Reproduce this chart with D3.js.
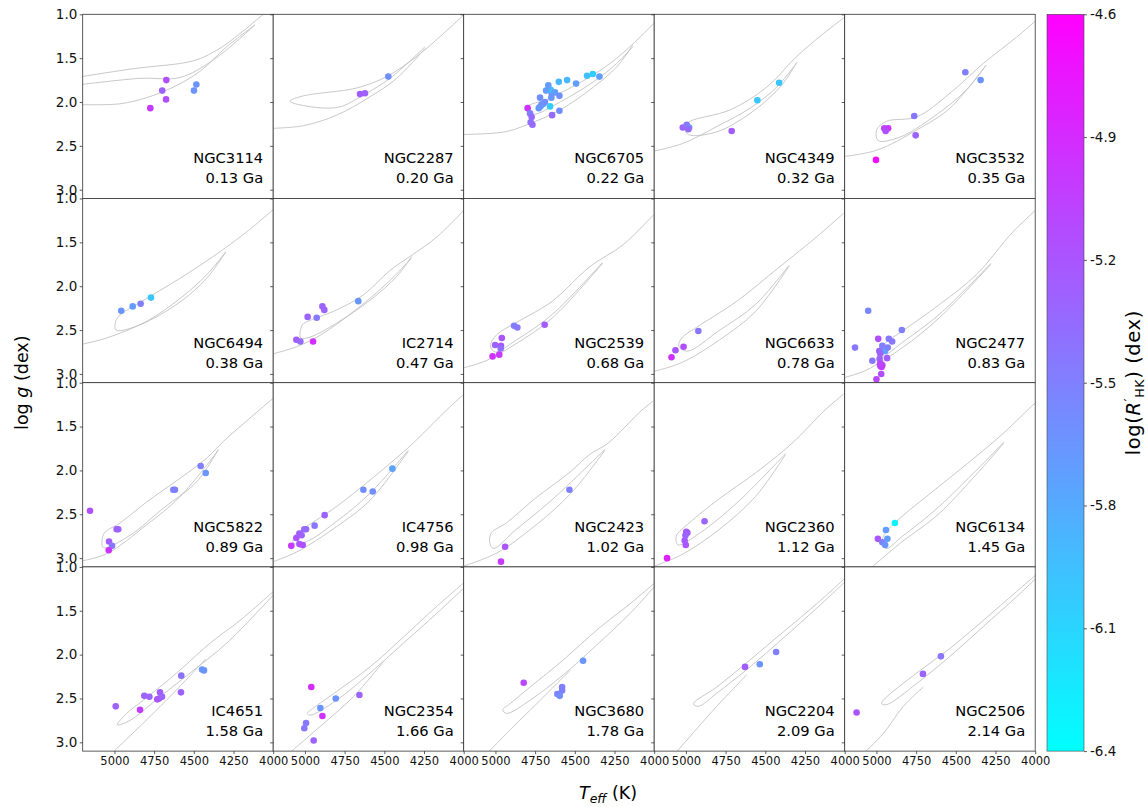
<!DOCTYPE html>
<html>
<head>
<meta charset="utf-8">
<script src="https://cdn.jsdelivr.net/npm/d3@7"></script>
<style>
  body { margin: 0; background: #fff; }
  svg { display: block; font-family: "DejaVu Sans", sans-serif; }
</style>
</head>
<body>
<svg id="chart" width="1148" height="807"></svg>
<script>
// ---- cluster names and ages (Ga), row-major order of the 4x5 grid ----
const clusterNames = ["NGC3114", "NGC2287", "NGC6705", "NGC4349", "NGC3532",
                      "NGC6494", "IC2714", "NGC2539", "NGC6633", "NGC2477",
                      "NGC5822", "IC4756", "NGC2423", "NGC2360", "NGC6134",
                      "IC4651", "NGC2354", "NGC3680", "NGC2204", "NGC2506"];
const clusterAges = ["0.13", "0.20", "0.22", "0.32", "0.35",
                     "0.38", "0.47", "0.68", "0.78", "0.83",
                     "0.89", "0.98", "1.02", "1.12", "1.45",
                     "1.58", "1.66", "1.78", "2.09", "2.14"];

// ---- giant stars: effective temperature (K) per cluster ----
const starTeff = [
  [4673, 4699, 4675, 4774, 4484, 4499],
  [4475, 4653, 4622],
  [4797, 4782, 4772, 4778, 4767, 4727, 4717, 4709, 4698, 4688, 4719, 4656, 4643, 4597, 4648, 4646, 4652, 4681, 4667, 4625, 4597, 4601, 4549, 4492, 4423, 4387, 4345],
  [5020, 4995, 4980, 4985, 4712, 4550, 4413],
  [5003, 4951, 4926, 4942, 4762, 4753, 4440, 4344],
  [4957, 4885, 4835, 4770],
  [4664, 4890, 4878, 4983, 4926, 5054, 5029, 4949],
  [4883, 4862, 4690, 4960, 5002, 4965, 4967, 5018, 4976],
  [4922, 5015, 5066, 5091],
  [5052, 5135, 4840, 4989, 4922, 4901, 4959, 4945, 4929, 4975, 5026, 4980, 4933, 4975, 4975, 4963, 4970, 5000, 4982, 4963, 4968, 4978],
  [5154, 4986, 4976, 5034, 5015, 5036, 4629, 4619, 4457, 4425],
  [4449, 4632, 4573, 4876, 4939, 5004, 4993, 5035, 5021, 5054, 5035, 5014, 5086],
  [4534, 4939, 4965],
  [4883, 4998, 4991, 5003, 5008, 5001, 5119],
  [4884, 4940, 4931, 4991, 4963, 4945],
  [4992, 4839, 4812, 4780, 4713, 4730, 4719, 4700, 4579, 4581, 4448, 4436],
  [4960, 4657, 4806, 4903, 4890, 4993, 5004, 4945],
  [4822, 4448, 4580, 4580, 4610, 4595],
  [4628, 4535, 4432],
  [5125, 4707, 4594]
];

// ---- giant stars: surface gravity log g (dex) per cluster ----
const starLogg = [
  [1.75, 1.87, 1.97, 2.07, 1.80, 1.87],
  [1.71, 1.91, 1.90],
  [2.07, 2.13, 2.17, 2.23, 2.26, 2.07, 2.05, 2.03, 2.02, 2.00, 1.95, 2.05, 2.15, 2.10, 1.95, 1.90, 1.86, 1.87, 1.81, 1.89, 1.93, 1.77, 1.75, 1.79, 1.70, 1.68, 1.71],
  [2.29, 2.26, 2.29, 2.31, 2.33, 1.98, 1.78],
  [2.66, 2.30, 2.30, 2.33, 2.16, 2.38, 1.66, 1.75],
  [2.28, 2.23, 2.20, 2.13],
  [2.17, 2.23, 2.27, 2.35, 2.36, 2.61, 2.63, 2.63],
  [2.45, 2.47, 2.44, 2.59, 2.67, 2.68, 2.71, 2.80, 2.78],
  [2.51, 2.69, 2.73, 2.81],
  [2.28, 2.70, 2.50, 2.60, 2.60, 2.63, 2.70, 2.74, 2.70, 2.77, 2.85, 2.83, 2.82, 2.88, 2.91, 2.90, 3.00, 3.06, 2.74, 2.68, 2.92, 2.89],
  [2.46, 2.67, 2.67, 2.81, 2.86, 2.91, 2.22, 2.22, 1.95, 2.03],
  [1.98, 2.22, 2.24, 2.51, 2.63, 2.67, 2.67, 2.72, 2.74, 2.77, 2.84, 2.85, 2.86],
  [2.22, 2.87, 3.04],
  [2.58, 2.70, 2.71, 2.74, 2.80, 2.85, 3.00],
  [2.60, 2.68, 2.78, 2.78, 2.82, 2.85],
  [2.59, 2.63, 2.47, 2.48, 2.43, 2.51, 2.50, 2.48, 2.24, 2.43, 2.17, 2.18],
  [2.37, 2.46, 2.50, 2.61, 2.70, 2.78, 2.84, 2.98],
  [2.32, 2.07, 2.37, 2.41, 2.45, 2.47],
  [2.14, 2.11, 1.97],
  [2.66, 2.22, 2.02]
];

// ---- giant stars: chromospheric activity log(R'HK) (dex) per cluster ----
const starRhk = [
  [-5.15, -5.3, -5.15, -5.0, -5.65, -5.65],
  [-5.6, -5.25, -5.3],
  [-4.95, -5.5, -5.35, -5.4, -5.35, -5.65, -5.7, -5.65, -5.65, -5.6, -5.6, -6.05, -5.35, -5.6, -5.65, -5.65, -5.95, -5.7, -5.7, -5.7, -5.6, -5.9, -5.9, -5.7, -5.95, -6.05, -5.7],
  [-5.3, -5.45, -5.6, -5.35, -5.25, -6.0, -6.0],
  [-4.7, -5.1, -5.0, -5.15, -5.45, -5.3, -5.5, -5.65],
  [-5.65, -5.7, -5.5, -6.0],
  [-5.65, -5.3, -5.3, -5.3, -5.45, -5.25, -5.35, -4.9],
  [-5.5, -5.45, -5.25, -5.2, -5.3, -5.2, -5.4, -4.95, -5.0],
  [-5.45, -5.15, -5.2, -4.95],
  [-5.55, -5.45, -5.5, -5.15, -5.45, -5.45, -5.65, -5.75, -5.5, -5.3, -5.45, -5.3, -5.25, -5.2, -5.05, -5.1, -5.15, -5.1, -5.3, -5.5, -5.0, -5.1],
  [-5.15, -5.25, -5.3, -5.25, -5.45, -4.95, -5.5, -5.5, -5.5, -5.65],
  [-5.75, -5.6, -5.6, -5.3, -5.45, -5.35, -5.35, -5.25, -5.3, -5.2, -5.2, -5.15, -5.0],
  [-5.5, -5.2, -5.0],
  [-5.3, -5.25, -5.25, -5.3, -5.25, -5.2, -4.85],
  [-6.3, -5.7, -5.7, -5.2, -5.5, -5.65],
  [-5.3, -5.0, -5.3, -5.3, -5.25, -5.2, -5.2, -5.3, -5.4, -5.3, -5.65, -5.65],
  [-4.9, -5.3, -5.65, -5.65, -4.95, -5.45, -5.45, -5.3],
  [-5.1, -5.65, -5.5, -5.5, -5.5, -5.6],
  [-5.25, -5.65, -5.5],
  [-5.2, -5.3, -5.45]
];

// ---- isochrone tracks [Teff, log g] per cluster ----
const isochrones = [
  [ [[5206,1.71],[4881,1.62],[4503,1.53],[4356,1.41],[4209,1.22],[4062,1.0],[4000,0.92]],
    [[5206,1.80],[4839,1.73],[4587,1.72],[4377,1.52],[4115,1.12]],
    [[5206,2.03],[4965,2.02],[4797,1.95],[4629,1.83],[4461,1.65],[4293,1.37],[4115,1.12]] ],
  [ [[3990,0.99],[4128,1.22],[4296,1.48],[4485,1.71],[4674,1.84],[5010,1.93],[5094,1.99],[5010,2.04],[4790,2.06],[4632,1.92],[4464,1.73],[4244,1.37]],
    [[5200,2.30],[5010,2.27],[4800,2.15],[4590,1.94],[4422,1.73],[4244,1.39]] ],
  [ [[5200,2.37],[4940,2.34],[4803,2.26],[4593,2.09],[4383,1.83],[4236,1.60],[4135,1.35]],
    [[4000,1.10],[4089,1.26],[4236,1.50],[4383,1.69],[4551,1.86],[4677,1.97],[4803,2.05],[4811,2.09],[4761,2.14],[4593,2.00],[4383,1.77],[4236,1.56],[4135,1.37]] ],
  [ [[3998,1.03],[4134,1.22],[4302,1.48],[4491,1.83],[4722,2.09],[4974,2.22],[5006,2.28],[4985,2.37],[4806,2.34],[4596,2.13],[4407,1.83],[4302,1.55]],
    [[5200,2.56],[5016,2.47],[4806,2.28],[4596,2.07],[4428,1.83],[4302,1.55]] ],
  [ [[4001,1.08],[4117,1.26],[4327,1.56],[4537,1.90],[4747,2.17],[4936,2.22],[4999,2.32],[4989,2.44],[4852,2.40],[4642,2.17],[4432,1.86],[4310,1.58]],
    [[5200,2.62],[4999,2.55],[4747,2.32],[4537,2.07],[4310,1.58]] ],
  [ [[3989,1.11],[4167,1.38],[4377,1.66],[4587,1.91],[4797,2.14],[4965,2.33],[4992,2.40],[4990,2.50],[4839,2.44],[4587,2.18],[4419,1.91],[4299,1.61]],
    [[5200,2.66],[5049,2.59],[4797,2.40],[4587,2.14],[4419,1.87],[4299,1.61]] ],
  [ [[3992,1.12],[4170,1.44],[4338,1.66],[4464,1.82],[4632,2.10],[4800,2.27],[4968,2.39],[5016,2.44],[5027,2.59],[4968,2.58],[4800,2.42],[4590,2.16],[4422,1.89],[4328,1.66]],
    [[5200,2.77],[5052,2.69],[4905,2.56],[4695,2.29],[4485,1.97],[4328,1.68]] ],
  [ [[4007,1.19],[4198,1.53],[4408,1.78],[4641,2.17],[4874,2.42],[4990,2.55],[5032,2.68],[5002,2.75],[4874,2.62],[4641,2.32],[4326,1.73]],
    [[5200,2.93],[5060,2.85],[4874,2.66],[4641,2.36],[4326,1.74]] ],
  [ [[4007,1.17],[4192,1.46],[4424,1.80],[4679,2.17],[4934,2.47],[5026,2.59],[5045,2.68],[4991,2.74],[4795,2.51],[4563,2.21],[4350,1.76]],
    [[5200,2.97],[5026,2.87],[4795,2.62],[4563,2.29],[4350,1.77]] ],
  [ [[4001,1.14],[4140,1.38],[4372,1.87],[4604,2.21],[4836,2.51],[4952,2.66],[4994,2.77],[4987,2.83],[4836,2.64],[4604,2.32],[4279,1.74]],
    [[5200,3.04],[5068,2.96],[4836,2.70],[4604,2.36],[4279,1.75]] ],
  [ [[3989,1.16],[4125,1.37],[4314,1.67],[4419,1.86],[4587,2.09],[4797,2.36],[4965,2.60],[5066,2.72],[5070,2.88],[4902,2.74],[4692,2.43],[4482,2.13],[4346,1.76]],
    [[5200,3.03],[5049,2.95],[4797,2.62],[4587,2.30],[4346,1.77]] ],
  [ [[3992,1.12],[4107,1.31],[4296,1.65],[4380,1.79],[4590,2.11],[4800,2.41],[4989,2.64],[5063,2.74],[5073,2.83],[4989,2.81],[4800,2.58],[4590,2.26],[4349,1.77]],
    [[5200,3.04],[5052,2.93],[4800,2.64],[4590,2.34],[4349,1.78]] ],
  [ [[4007,1.21],[4082,1.32],[4291,1.69],[4408,1.82],[4524,2.01],[4757,2.33],[4932,2.60],[5025,2.71],[5037,2.81],[5014,2.89],[4874,2.68],[4641,2.33],[4310,1.76]],
    [[5200,3.09],[4990,2.94],[4757,2.64],[4524,2.26],[4310,1.77]] ],
  [ [[4007,1.13],[4123,1.31],[4331,1.69],[4563,2.03],[4795,2.33],[4980,2.60],[5061,2.75],[5049,2.85],[4910,2.71],[4679,2.37],[4373,1.81]],
    [[5200,3.09],[5026,2.96],[4795,2.68],[4563,2.30],[4373,1.82]] ],
  [ [[4001,1.23],[4209,1.59],[4372,1.84],[4604,2.18],[4836,2.52],[4929,2.68],[4963,2.79],[4940,2.89],[4836,2.75],[4604,2.41],[4198,1.68]],
    [[5021,3.09],[4836,2.81],[4604,2.49],[4198,1.69]] ],
  [ [[3999,1.28],[4209,1.61],[4398,1.87],[4608,2.21],[4818,2.52],[4923,2.67],[4982,2.80],[4902,2.75],[4713,2.48],[4503,2.18],[4293,1.87],[3999,1.32]],
    [[4997,3.09],[4818,2.78],[4608,2.40],[4425,2.05]] ],
  [ [[3992,1.17],[4170,1.45],[4380,1.80],[4590,2.14],[4800,2.42],[4947,2.61],[4985,2.67],[4968,2.69],[4800,2.52],[4590,2.21],[4380,1.87],[4170,1.53],[3992,1.23]],
    [[5084,3.10],[4905,2.82],[4695,2.48],[4506,2.08]] ],
  [ [[4001,1.19],[4152,1.42],[4362,1.72],[4572,2.06],[4782,2.37],[4908,2.56],[4954,2.63],[4929,2.67],[4782,2.52],[4572,2.23],[4362,1.89],[4152,1.53],[4001,1.23]],
    [[5055,3.13],[4887,2.82],[4740,2.56],[4530,2.18]] ],
  [ [[3998,1.13],[4176,1.42],[4386,1.74],[4596,2.06],[4806,2.37],[4953,2.56],[4922,2.59],[4806,2.44],[4596,2.14],[4386,1.81],[4176,1.47],[3998,1.17]],
    [[5069,3.13],[4806,2.59],[4617,2.23]] ],
  [ [[3995,1.09],[4117,1.28],[4327,1.61],[4537,1.93],[4747,2.21],[4957,2.52],[4968,2.56],[4936,2.57],[4747,2.33],[4537,2.02],[4327,1.68],[4117,1.34],[3995,1.13]],
    [[5083,3.13],[4957,2.90],[4831,2.59],[4705,2.37]] ]
];

// ---- tick values ----
const xTicks = [5000, 4750, 4500, 4250, 4000];
const yTicks = [1.0, 1.5, 2.0, 2.5, 3.0];
const cbarTicks = [-4.6, -4.9, -5.2, -5.5, -5.8, -6.1, -6.4];

// ---- layout ----
const gridLeft = 82.7, gridTop = 14.3, panelW = 190.5, panelH = 184.2;
const nCols = 5, nRows = 4;
const gridBottom = gridTop + nRows * panelH;

const x = d3.scaleLinear().domain([5200, 4000]).range([0, panelW]);
const y = d3.scaleLinear().domain([1.0, 3.1]).range([0, panelH]);
// "cool" colormap: cyan -> magenta, linear in RGB
const color = d3.scaleLinear().domain([-6.4, -4.6]).range(["#00ffff", "#ff00ff"]).clamp(true);

const svg = d3.select("#chart");
svg.append("rect").attr("width", 1148).attr("height", 807).attr("fill", "#fff");
const defs = svg.append("defs");

const trackLine = d3.line()
  .x(d => x(d[0])).y(d => y(d[1]))
  .curve(d3.curveCatmullRom.alpha(0.5));

function styleAxis(g, fontSize) {
  g.select(".domain").remove();
  g.selectAll(".tick line").attr("stroke", "#333").attr("stroke-width", 0.8);
  g.selectAll(".tick text").attr("fill", "#111").attr("font-size", fontSize)
    .attr("font-family", "DejaVu Sans, sans-serif");
}

clusterNames.forEach((name, i) => {
  const r = Math.floor(i / nCols), c = i % nCols;
  const g = svg.append("g")
    .attr("transform", `translate(${gridLeft + c * panelW},${gridTop + r * panelH})`);

  defs.append("clipPath").attr("id", "clip" + i)
    .append("rect").attr("width", panelW).attr("height", panelH);

  g.append("rect").attr("width", panelW).attr("height", panelH).attr("fill", "#fff");

  const plot = g.append("g").attr("clip-path", `url(#clip${i})`);
  plot.selectAll("path.track").data(isochrones[i]).join("path")
    .attr("class", "track")
    .attr("d", trackLine)
    .attr("fill", "none")
    .attr("stroke", "#c2c2c2")
    .attr("stroke-width", 0.9);

  const stars = starTeff[i].map((t, k) => ({ t, g: starLogg[i][k], v: starRhk[i][k] }));
  plot.selectAll("circle").data(stars).join("circle")
    .attr("cx", d => x(d.t))
    .attr("cy", d => y(d.g))
    .attr("r", 3.3)
    .attr("fill", d => color(d.v));

  g.append("text").attr("x", panelW - 10).attr("y", panelH - 35)
    .attr("text-anchor", "end").attr("font-size", 14.7).attr("fill", "#000")
    .text(name);
  g.append("text").attr("x", panelW - 10).attr("y", panelH - 15)
    .attr("text-anchor", "end").attr("font-size", 14.7).attr("fill", "#000")
    .text(clusterAges[i] + " Ga");

  g.append("rect").attr("width", panelW).attr("height", panelH)
    .attr("fill", "none").attr("stroke", "#333").attr("stroke-width", 0.8);

  const yAxis = d3.axisLeft(y).tickValues(yTicks).tickSize(3).tickPadding(2.4)
    .tickFormat(c === 0 ? d3.format(".1f") : () => "");
  g.append("g").call(yAxis).call(a => styleAxis(a, 13.5));

  if (r === nRows - 1) {
    const xAxis = d3.axisBottom(x).tickValues(xTicks).tickSize(3).tickPadding(2.7)
      .tickFormat(d3.format("d"));
    g.append("g").attr("transform", `translate(0,${panelH})`)
      .call(xAxis).call(a => styleAxis(a, 11.5));
  }
});

// ---- axis titles ----
const yTitle = svg.append("text")
  .attr("transform", `translate(28,${(gridTop + gridBottom) / 2}) rotate(-90)`)
  .attr("text-anchor", "middle").attr("font-size", 17.5).attr("fill", "#000");
yTitle.append("tspan").text("log ");
yTitle.append("tspan").attr("font-style", "italic").text("g");
yTitle.append("tspan").text(" (dex)");

const xTitle = svg.append("text")
  .attr("x", 608).attr("y", 799)
  .attr("text-anchor", "middle").attr("font-size", 17.5).attr("fill", "#000");
xTitle.append("tspan").attr("font-style", "italic").text("T");
xTitle.append("tspan").attr("font-style", "italic").attr("font-size", 12.5).attr("dy", 4).text("eff");
xTitle.append("tspan").attr("dy", -4).text(" (K)");

// ---- colour bar ----
const cbX = 1047, cbW = 37;
const grad = defs.append("linearGradient").attr("id", "coolGrad")
  .attr("x1", 0).attr("y1", 1).attr("x2", 0).attr("y2", 0);
d3.range(0, 1.0001, 0.1).forEach(t => {
  grad.append("stop").attr("offset", t).attr("stop-color", color(-6.4 + 1.8 * t));
});
svg.append("rect").attr("x", cbX).attr("y", gridTop)
  .attr("width", cbW).attr("height", gridBottom - gridTop)
  .attr("fill", "url(#coolGrad)")
  .attr("stroke", "#444").attr("stroke-width", 0.6);

const cScale = d3.scaleLinear().domain([-6.4, -4.6]).range([gridBottom, gridTop]);
svg.append("g").attr("transform", `translate(${cbX + cbW},0)`)
  .call(d3.axisRight(cScale).tickValues(cbarTicks).tickSize(3).tickPadding(3)
    .tickFormat(v => v.toFixed(1)))
  .call(a => styleAxis(a, 13.5));

const cTitle = svg.append("text")
  .attr("transform", `translate(1140,${(gridTop + gridBottom) / 2}) rotate(-90)`)
  .attr("text-anchor", "middle").attr("font-size", 19.5).attr("letter-spacing", 0.6)
  .attr("fill", "#000");
cTitle.append("tspan").text("log(");
cTitle.append("tspan").attr("font-style", "italic").text("R");
cTitle.append("tspan").attr("font-size", 14).attr("dy", -6).text("\u2032");
cTitle.append("tspan").attr("font-size", 12.5).attr("dy", 10).text("HK");
cTitle.append("tspan").attr("dy", -4).text(")");
cTitle.append("tspan").text(" (dex)");
</script>
</body>
</html>
